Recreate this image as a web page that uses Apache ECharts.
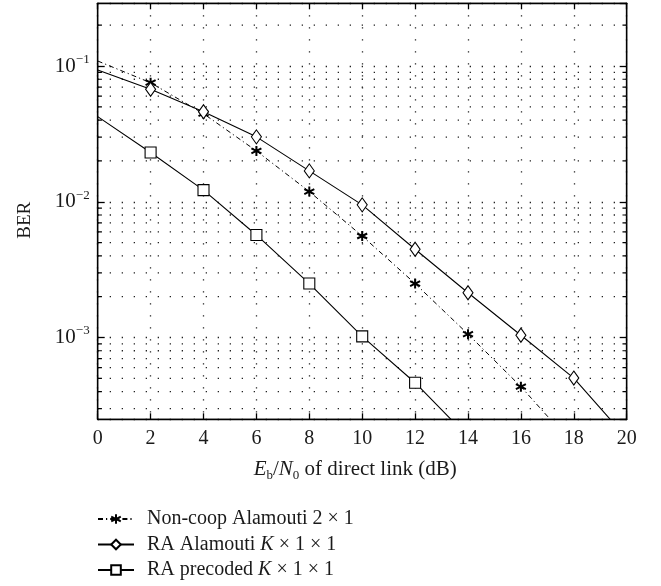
<!DOCTYPE html>
<html><head><meta charset="utf-8">
<script src="https://cdn.jsdelivr.net/npm/echarts@6/dist/echarts.min.js"></script>
<style>html,body{margin:0;padding:0;background:#fff}#c{width:661px;height:586px}</style>
</head><body><div id="c"></div>
<script>
// ---- data ----
const xNonCoop = [0, 2, 4, 6, 8, 10, 12, 14, 16, 18];
const berNonCoop = [0.109, 0.0754, 0.0446, 0.0237, 0.0119, 0.0056, 0.0025, 0.00106, 0.000435, 0.00016];
const xRaAlamouti = [0, 2, 4, 6, 8, 10, 12, 14, 16, 18, 20];
const berRaAlamouti = [0.0935, 0.0674, 0.0461, 0.0301, 0.0169, 0.0095, 0.00447, 0.00214, 0.00104, 0.000503, 0.000182];
const xRaPrecoded = [0, 2, 4, 6, 8, 10, 12, 14];
const berRaPrecoded = [0.0424, 0.0231, 0.0122, 0.0057, 0.0025, 0.00102, 0.000465, 0.000186];
const seriesNames = ['Non-coop Alamouti 2 × 1', 'RA Alamouti K × 1 × 1', 'RA precoded K × 1 × 1'];
const yMinorTicks = [3e-4, 4e-4, 5e-4, 6e-4, 7e-4, 8e-4, 9e-4,
  2e-3, 3e-3, 4e-3, 5e-3, 6e-3, 7e-3, 8e-3, 9e-3,
  2e-2, 3e-2, 4e-2, 5e-2, 6e-2, 7e-2, 8e-2, 9e-2, 2e-1];
const xMin = 0, xMax = 20, xInterval = 2;
const yMin = 2.5e-4, yMax = 0.29;

const FONT = 'Liberation Serif';
const TXT = '#1a1a1a';
const starPath = 'path://M5,0L5,10M0.67,2.5L9.33,7.5M0.67,7.5L9.33,2.5';
const dotStyle = { color: '#222', type: [1.3, 10.7], width: 1.3 };

function toData(xs, ys) {
  return xs.map((x, i) => (x === 0 ? { value: [x, ys[i]], symbol: 'none' } : [x, ys[i]]));
}

// helper polylines (broken by empty points) for minor grid and minor ticks
const minorGridData = [];
const minorTickData = [];
yMinorTicks.forEach(v => {
  minorGridData.push([xMin, v], [xMax, v], [xMax, '-']);
  minorTickData.push([xMin, v], [xMin + 0.16, v], [xMin + 0.16, '-']);
  minorTickData.push([xMax - 0.16, v], [xMax, v], [xMax, '-']);
});

const supRich = {
  b: { fontFamily: FONT, fontSize: 21, color: TXT, lineHeight: 26 },
  sup: { fontFamily: FONT, fontSize: 13, color: TXT, lineHeight: 13, verticalAlign: 'top' }
};

const chart = echarts.init(document.getElementById('c'));
chart.setOption({
  animation: false,
  backgroundColor: '#fff',
  grid: { left: 97.7, right: 34.3, top: 3.3, bottom: 166.7, show: true, borderColor: '#000', borderWidth: 1.3, backgroundColor: 'transparent' },
  legend: {
    orient: 'vertical', left: 97, top: 509, padding: 0, itemWidth: 36, itemHeight: 12, itemGap: 5.5,
    data: seriesNames,
    formatter: n => n.replace(' K ', ' {i|K} '),
    textStyle: { fontFamily: FONT, fontSize: 20, color: TXT, padding: [0, 0, 0, 8],
      rich: { i: { fontFamily: FONT, fontSize: 20, fontStyle: 'italic', color: TXT } } }
  },
  xAxis: [{
    type: 'value', min: xMin, max: xMax, interval: xInterval, position: 'bottom',
    axisLine: { show: true, onZero: false, lineStyle: { color: '#000', width: 1.3 } },
    axisTick: { inside: true, length: 6, lineStyle: { color: '#000', width: 1.3 } },
    axisLabel: { margin: 9, fontFamily: FONT, fontSize: 20, color: TXT },
    splitLine: { show: true, lineStyle: dotStyle },
    name: '{i|E}{s|b}{n|/}{i|N}{s|0}{n| of direct link (dB)}',
    nameLocation: 'middle', nameGap: 37,
    nameTextStyle: { padding: [0, 14, 0, 0], rich: {
      i: { fontFamily: FONT, fontSize: 21, fontStyle: 'italic', color: TXT, lineHeight: 26 },
      n: { fontFamily: FONT, fontSize: 21, color: TXT, lineHeight: 26 },
      s: { fontFamily: FONT, fontSize: 13, color: TXT, lineHeight: 13, verticalAlign: 'bottom' }
    } }
  }, {
    type: 'value', min: xMin, max: xMax, interval: xInterval, position: 'top',
    axisLine: { show: true, onZero: false, lineStyle: { color: '#000', width: 1.3 } },
    axisTick: { inside: true, length: 6, lineStyle: { color: '#000', width: 1.3 } },
    axisLabel: { show: false }, splitLine: { show: false }
  }],
  yAxis: [{
    type: 'log', logBase: 10, min: yMin, max: yMax, position: 'left',
    axisLine: { show: true, onZero: false, lineStyle: { color: '#000', width: 1.3 } },
    axisTick: { inside: true, length: 7, lineStyle: { color: '#000', width: 1.3 } },
    axisLabel: {
      margin: 8, showMinLabel: false, showMaxLabel: false,
      formatter: v => {
        const e = Math.log10(v);
        if (Math.abs(e - Math.round(e)) > 1e-6) return '';
        return '{b|10}{sup|−' + Math.abs(Math.round(e)) + '}';
      },
      rich: supRich
    },
    splitLine: { show: true, lineStyle: dotStyle },
    name: 'BER', nameLocation: 'middle', nameGap: 63,
    nameTextStyle: { fontFamily: FONT, fontSize: 19, color: TXT, padding: [0, 18, 0, 0] }
  }, {
    type: 'log', logBase: 10, min: yMin, max: yMax, position: 'right',
    axisLine: { show: true, onZero: false, lineStyle: { color: '#000', width: 1.3 } },
    axisTick: { inside: true, length: 7, lineStyle: { color: '#000', width: 1.3 } },
    axisLabel: { show: false }, splitLine: { show: false }
  }],
  series: [{
    name: 'minorGrid', type: 'line', data: minorGridData, symbol: 'none', silent: true,
    connectNulls: false, lineStyle: dotStyle, z: 1, clip: true
  }, {
    name: 'minorTicks', type: 'line', data: minorTickData, symbol: 'none', silent: true,
    connectNulls: false, lineStyle: { color: '#000', width: 1.2, type: 'solid' }, z: 1, clip: true
  }, {
    name: seriesNames[0], type: 'line', data: toData(xNonCoop, berNonCoop),
    symbol: starPath, symbolSize: 10, showAllSymbol: true,
    lineStyle: { color: '#000', width: 1, type: [5, 3, 1.2, 3] },
    itemStyle: { color: '#000', borderColor: '#000', borderWidth: 2 },
    clip: true, z: 5
  }, {
    name: seriesNames[1], type: 'line', data: toData(xRaAlamouti, berRaAlamouti),
    symbol: 'diamond', symbolSize: [10, 14], showAllSymbol: true,
    lineStyle: { color: '#000', width: 1.1, type: 'solid' },
    itemStyle: { color: '#fff', borderColor: '#000', borderWidth: 1.1 },
    clip: true, z: 5
  }, {
    name: seriesNames[2], type: 'line', data: toData(xRaPrecoded, berRaPrecoded),
    symbol: 'rect', symbolSize: 11, showAllSymbol: true,
    lineStyle: { color: '#000', width: 1.1, type: 'solid' },
    itemStyle: { color: '#fff', borderColor: '#000', borderWidth: 1.1 },
    clip: true, z: 5
  }]
});
</script></body></html>
